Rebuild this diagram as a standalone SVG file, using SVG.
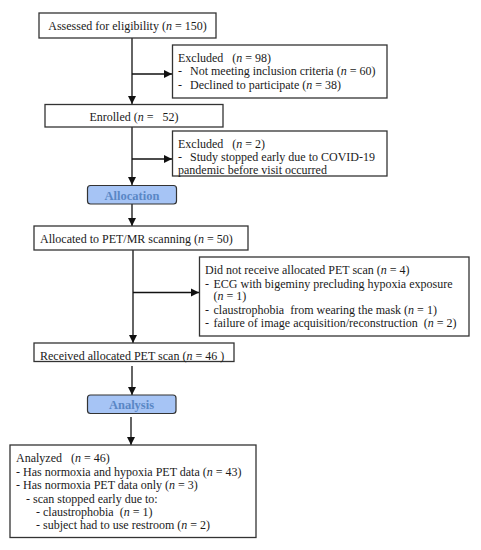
<svg xmlns="http://www.w3.org/2000/svg" width="481" height="550" viewBox="0 0 481 550">
<style>
text{font-family:"Liberation Serif","Times New Roman",serif;font-size:12px;fill:#1a1a1a;white-space:pre}
.box{fill:#fff;stroke:#333;stroke-width:1.3}
.stage{fill:#a6c4f5;stroke:#333;stroke-width:1.2}
.stxt{font-weight:bold;fill:#5a87c5;font-size:12.5px}
.ln{stroke:#111;stroke-width:1.3;fill:none}
.i{font-style:italic}
</style>
<defs>
<marker id="ah" viewBox="0 0 10 10" refX="10" refY="5" markerWidth="8" markerHeight="9" markerUnits="userSpaceOnUse" orient="auto">
<path d="M0,0 L10,5 L0,10 z" fill="#111"/>
</marker>
</defs>
<rect width="481" height="550" fill="#fff"/>
<g id="connectors">
<path class="ln" d="M132,38 V104" marker-end="url(#ah)"/>
<path class="ln" d="M132,74 H172" marker-end="url(#ah)"/>
<path class="ln" d="M132,127 V185" marker-end="url(#ah)"/>
<path class="ln" d="M132,159 H172" marker-end="url(#ah)"/>
<path class="ln" d="M132,204 V226" marker-end="url(#ah)"/>
<path class="ln" d="M133,250 V343" marker-end="url(#ah)"/>
<path class="ln" d="M133,292.5 H199" marker-end="url(#ah)"/>
<path class="ln" d="M132,366 V395" marker-end="url(#ah)"/>
<path class="ln" d="M131,417 V445" marker-end="url(#ah)"/>
</g>
<g id="assessed">
<rect class="box" x="39" y="13" width="177" height="25"/>
<text x="127.5" y="29.5" text-anchor="middle" xml:space="preserve">Assessed for eligibility (<tspan class="i">n</tspan> = 150)</text>
</g>
<g id="excluded1">
<rect class="box" x="172.5" y="45" width="214.5" height="53"/>
<text x="178" y="61.5" xml:space="preserve">Excluded   (<tspan class="i">n</tspan> = 98)</text>
<text x="178" y="75">-</text>
<text x="190" y="75" xml:space="preserve">Not meeting inclusion criteria (<tspan class="i">n</tspan> = 60)</text>
<text x="178" y="88.5">-</text>
<text x="190" y="88.5" xml:space="preserve">Declined to participate (<tspan class="i">n</tspan> = 38)</text>
</g>
<g id="enrolled">
<rect class="box" x="45" y="104.5" width="178" height="22.5"/>
<text x="134" y="121" text-anchor="middle" xml:space="preserve">Enrolled (<tspan class="i">n</tspan> =   52)</text>
</g>
<g id="excluded2">
<rect class="box" x="172.5" y="131" width="214.5" height="45"/>
<text x="178" y="147.5" xml:space="preserve">Excluded   (<tspan class="i">n</tspan> = 2)</text>
<text x="178" y="161">-</text>
<text x="190" y="161">Study stopped early due to COVID-19</text>
<text x="178" y="173.5">pandemic before visit occurred</text>
</g>
<g id="allocation">
<rect class="stage" x="87.5" y="185.5" width="89" height="18.5" rx="3"/>
<text class="stxt" x="132" y="199.5" text-anchor="middle">Allocation</text>
</g>
<g id="allocated">
<rect class="box" x="34" y="226" width="214" height="24"/>
<text x="40" y="243" xml:space="preserve">Allocated to PET/MR scanning (<tspan class="i">n</tspan> = 50)</text>
</g>
<g id="notreceived">
<rect class="box" x="199.5" y="257" width="269.5" height="79"/>
<text x="205" y="273.5" xml:space="preserve">Did not receive allocated PET scan (<tspan class="i">n</tspan> = 4)</text>
<text x="205" y="287.5">-</text>
<text x="213.5" y="287.5">ECG with bigeminy precluding hypoxia exposure</text>
<text x="213.5" y="300" xml:space="preserve">(<tspan class="i">n</tspan> = 1)</text>
<text x="205" y="314">-</text>
<text x="213.5" y="314" xml:space="preserve">claustrophobia  from wearing the mask (<tspan class="i">n</tspan> = 1)</text>
<text x="205" y="327">-</text>
<text x="213.5" y="327" xml:space="preserve">failure of image acquisition/reconstruction  (<tspan class="i">n</tspan> = 2)</text>
</g>
<g id="received">
<rect class="box" x="34" y="343" width="200" height="18.5"/>
<text x="40" y="359.5" xml:space="preserve">Received allocated PET scan (<tspan class="i">n</tspan> = 46 )</text>
</g>
<g id="analysis">
<rect class="stage" x="87.5" y="395" width="88.5" height="18.5" rx="3"/>
<text class="stxt" x="131.5" y="408.5" text-anchor="middle">Analysis</text>
</g>
<g id="analyzed">
<rect class="box" x="10" y="445" width="246" height="92.5"/>
<text x="16" y="462" xml:space="preserve">Analyzed   (<tspan class="i">n</tspan> = 46)</text>
<text x="16" y="475.5" xml:space="preserve">- Has normoxia and hypoxia PET data (<tspan class="i">n</tspan> = 43)</text>
<text x="16" y="489" xml:space="preserve">- Has normoxia PET data only (<tspan class="i">n</tspan> = 3)</text>
<text x="26" y="502.5">- scan stopped early due to:</text>
<text x="36" y="515.5" xml:space="preserve">- claustrophobia  (<tspan class="i">n</tspan> = 1)</text>
<text x="36" y="529" xml:space="preserve">- subject had to use restroom (<tspan class="i">n</tspan> = 2)</text>
</g>
</svg>
